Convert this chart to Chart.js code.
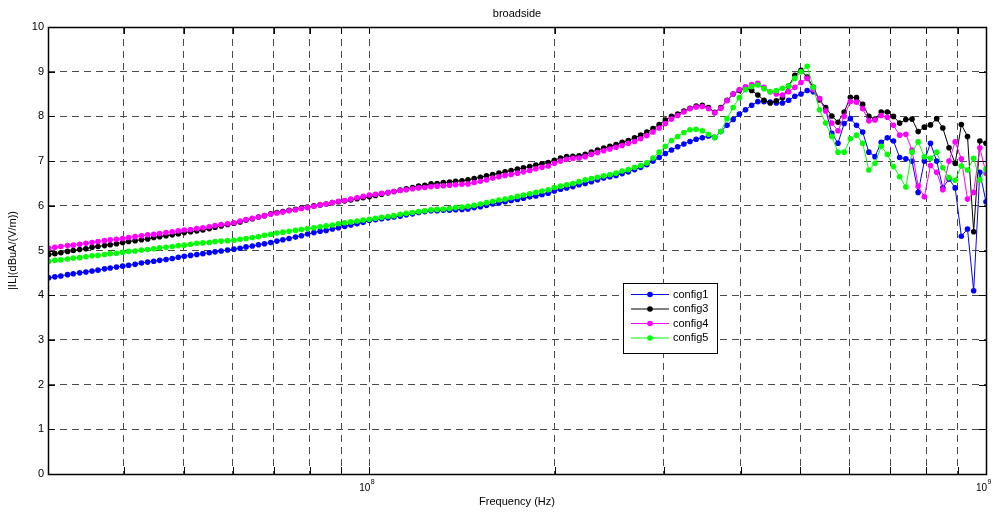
<!DOCTYPE html>
<html>
<head>
<meta charset="utf-8">
<title>broadside</title>
<script src="https://cdn.jsdelivr.net/npm/chart.js@4.4.1/dist/chart.umd.min.js"></script>
<style>
  html, body { margin: 0; padding: 0; background: #fff; }
  #wrap { width: 998px; height: 515px; }
</style>
</head>
<body>
<div id="wrap"><canvas id="chart" width="998" height="515"></canvas></div>
<script>
// frequency points (MHz)
const freqMHz = [
  30.2, 30.9, 31.6, 32.4, 33.1, 33.9, 34.7, 35.5, 36.3, 37.2, 38.0, 38.9, 39.8, 40.7, 41.7, 42.7, 43.7, 44.7, 45.7, 46.8,
  47.9, 49.0, 50.1, 51.3, 52.5, 53.7, 55.0, 56.2, 57.5, 58.9, 60.3, 61.7, 63.1, 64.6, 66.1, 67.6, 69.2, 70.8, 72.4, 74.1,
  75.9, 77.6, 79.4, 81.3, 83.2, 85.1, 87.1, 89.1, 91.2, 93.3, 95.5, 97.7, 100, 102.3, 104.7, 107.2, 109.6, 112.2, 114.8, 117.5,
  120.2, 123.0, 125.9, 128.8, 131.8, 134.9, 138.0, 141.3, 144.5, 147.9, 151.4, 154.9, 158.5, 162.2, 166.0, 169.8, 173.8, 177.8, 182.0, 186.2,
  190.5, 195.0, 199.5, 204.2, 208.9, 213.8, 218.8, 223.9, 229.1, 234.4, 239.9, 245.5, 251.2, 257.0, 263.0, 269.2, 275.4, 281.8, 288.4, 295.1,
  302.0, 309.0, 316.2, 323.6, 331.1, 338.8, 346.7, 354.8, 363.1, 371.5, 380.2, 389.0, 398.1, 407.4, 416.9, 426.6, 436.5, 446.7, 457.1, 467.7,
  478.6, 489.8, 501.2, 512.9, 524.8, 537.0, 549.5, 562.3, 575.4, 588.8, 602.6, 616.6, 631.0, 645.7, 660.7, 676.1, 691.8, 707.9, 724.4, 741.3,
  758.6, 776.2, 794.3, 812.8, 831.8, 851.1, 871.0, 891.3, 912.0, 933.3, 955.0, 977.2, 1000
];

// |IL| in dBuA/(V/m)
const config1 = [
  4.39, 4.41, 4.43, 4.46, 4.48, 4.50, 4.52, 4.54, 4.56, 4.59, 4.61, 4.63, 4.65, 4.67, 4.69, 4.72, 4.74, 4.76, 4.78, 4.80,
  4.82, 4.85, 4.87, 4.89, 4.91, 4.93, 4.95, 4.97, 4.99, 5.01, 5.03, 5.05, 5.08, 5.10, 5.13, 5.15, 5.18, 5.21, 5.24, 5.27,
  5.30, 5.33, 5.37, 5.40, 5.43, 5.45, 5.48, 5.51, 5.54, 5.57, 5.60, 5.63, 5.67, 5.69, 5.71, 5.73, 5.75, 5.77, 5.80, 5.82,
  5.85, 5.87, 5.89, 5.89, 5.90, 5.90, 5.91, 5.92, 5.93, 5.96, 5.98, 6.01, 6.04, 6.06, 6.09, 6.12, 6.14, 6.17, 6.20, 6.22,
  6.25, 6.28, 6.33, 6.37, 6.40, 6.43, 6.47, 6.50, 6.54, 6.58, 6.62, 6.65, 6.68, 6.72, 6.76, 6.81, 6.86, 6.92, 7.00, 7.08,
  7.17, 7.25, 7.32, 7.38, 7.44, 7.49, 7.52, 7.56, 7.53, 7.66, 7.80, 7.93, 8.05, 8.15, 8.25, 8.33, 8.33, 8.32, 8.30, 8.30,
  8.36, 8.45, 8.50, 8.58, 8.55, 8.40, 8.15, 7.62, 7.40, 7.84, 7.95, 7.80, 7.65, 7.20, 7.10, 7.42, 7.52, 7.45, 7.08, 7.05,
  7.00, 6.30, 7.00, 7.40, 7.00, 6.40, 6.60, 6.40, 5.32, 5.48, 4.10, 6.75, 6.09
];
const config3 = [
  4.91, 4.93, 4.95, 4.98, 5.00, 5.02, 5.04, 5.07, 5.09, 5.11, 5.13, 5.15, 5.18, 5.20, 5.22, 5.24, 5.26, 5.29, 5.31, 5.33,
  5.35, 5.37, 5.40, 5.42, 5.44, 5.46, 5.49, 5.52, 5.55, 5.58, 5.61, 5.64, 5.68, 5.71, 5.75, 5.78, 5.82, 5.85, 5.87, 5.90,
  5.92, 5.95, 5.97, 6.00, 6.02, 6.04, 6.07, 6.09, 6.11, 6.13, 6.16, 6.18, 6.20, 6.23, 6.26, 6.29, 6.32, 6.35, 6.38, 6.41,
  6.44, 6.46, 6.49, 6.50, 6.52, 6.53, 6.55, 6.56, 6.58, 6.61, 6.64, 6.67, 6.70, 6.73, 6.76, 6.79, 6.82, 6.85, 6.88, 6.91,
  6.94, 6.97, 7.02, 7.07, 7.10, 7.11, 7.12, 7.15, 7.20, 7.25, 7.29, 7.33, 7.37, 7.42, 7.46, 7.52, 7.58, 7.65, 7.73, 7.82,
  7.92, 8.00, 8.05, 8.12, 8.18, 8.23, 8.25, 8.20, 8.09, 8.20, 8.36, 8.50, 8.58, 8.63, 8.58, 8.48, 8.36, 8.30, 8.35, 8.42,
  8.68, 8.92, 9.03, 8.88, 8.65, 8.37, 8.20, 8.01, 7.87, 8.10, 8.43, 8.42, 8.27, 8.00, 7.94, 8.10, 8.10, 8.00, 7.85, 7.93,
  7.94, 7.66, 7.76, 7.81, 7.95, 7.74, 7.30, 6.95, 7.82, 7.55, 5.42, 7.45, 7.40
];
const config4 = [
  5.05, 5.07, 5.09, 5.11, 5.12, 5.14, 5.16, 5.18, 5.20, 5.22, 5.24, 5.25, 5.27, 5.29, 5.31, 5.33, 5.35, 5.36, 5.38, 5.40,
  5.42, 5.44, 5.46, 5.47, 5.49, 5.51, 5.53, 5.56, 5.58, 5.60, 5.62, 5.66, 5.69, 5.72, 5.75, 5.78, 5.81, 5.84, 5.86, 5.89,
  5.91, 5.94, 5.96, 5.99, 6.02, 6.04, 6.07, 6.10, 6.12, 6.15, 6.18, 6.21, 6.24, 6.26, 6.28, 6.30, 6.32, 6.34, 6.36, 6.38,
  6.40, 6.41, 6.43, 6.44, 6.45, 6.46, 6.47, 6.48, 6.49, 6.52, 6.55, 6.58, 6.62, 6.65, 6.68, 6.70, 6.73, 6.76, 6.79, 6.83,
  6.86, 6.89, 6.95, 7.00, 7.04, 7.06, 7.07, 7.10, 7.15, 7.19, 7.23, 7.27, 7.31, 7.35, 7.40, 7.44, 7.50, 7.57, 7.65, 7.74,
  7.84, 7.94, 8.02, 8.10, 8.17, 8.21, 8.22, 8.17, 8.08, 8.18, 8.35, 8.50, 8.60, 8.66, 8.71, 8.74, 8.65, 8.55, 8.50, 8.48,
  8.55, 8.65, 8.76, 8.85, 8.60, 8.40, 8.12, 7.85, 7.68, 8.00, 8.33, 8.32, 8.17, 7.90, 7.92, 8.02, 7.98, 7.80, 7.58, 7.60,
  7.25, 6.44, 6.20, 6.90, 6.75, 6.36, 7.00, 7.43, 7.05, 6.15, 6.30, 7.30, 6.73
];
const config5 = [
  4.76, 4.78, 4.79, 4.81, 4.83, 4.84, 4.86, 4.88, 4.89, 4.91, 4.93, 4.94, 4.96, 4.98, 4.99, 5.01, 5.02, 5.04, 5.06, 5.07,
  5.09, 5.11, 5.12, 5.14, 5.16, 5.17, 5.18, 5.20, 5.21, 5.22, 5.23, 5.25, 5.27, 5.29, 5.31, 5.34, 5.36, 5.39, 5.41, 5.43,
  5.45, 5.47, 5.49, 5.51, 5.53, 5.55, 5.57, 5.60, 5.62, 5.64, 5.66, 5.68, 5.70, 5.72, 5.74, 5.76, 5.78, 5.81, 5.83, 5.85,
  5.87, 5.89, 5.91, 5.92, 5.93, 5.94, 5.96, 5.97, 5.99, 6.01, 6.04, 6.07, 6.10, 6.13, 6.15, 6.18, 6.21, 6.24, 6.27, 6.30,
  6.33, 6.36, 6.41, 6.44, 6.47, 6.50, 6.54, 6.58, 6.61, 6.64, 6.67, 6.70, 6.73, 6.78, 6.81, 6.86, 6.90, 6.96, 7.07, 7.20,
  7.33, 7.46, 7.55, 7.64, 7.70, 7.71, 7.68, 7.60, 7.53, 7.66, 7.95, 8.20, 8.42, 8.60, 8.67, 8.70, 8.62, 8.55, 8.58, 8.63,
  8.68, 8.85, 9.00, 9.12, 8.65, 8.15, 7.85, 7.55, 7.20, 7.20, 7.50, 7.58, 7.40, 6.80, 6.95, 7.33, 7.15, 6.88, 6.65, 6.42,
  7.20, 7.43, 7.10, 7.06, 7.20, 6.85, 6.63, 6.57, 6.89, 6.80, 7.06, 6.58, 6.82
];

const seriesNames = ["config1", "config3", "config4", "config5"];
const seriesColors = ["#0000ff", "#000000", "#ff00ff", "#00ff00"];

// grid / tick positions on the frequency axis (Hz)
const xTicks = [4e7, 5e7, 6e7, 7e7, 8e7, 9e7, 1e8, 2e8, 3e8, 4e8, 5e8, 6e8, 7e8, 8e8, 9e8, 1e9];
const xLabelDecades = [8, 9];

const FONT = '"Liberation Sans", Arial, Helvetica, sans-serif';
Chart.defaults.font.family = FONT;
Chart.defaults.color = "#000";

const toPoints = (vals) => freqMHz.map((f, i) => ({ x: f * 1e6, y: vals[i] }));

// MATLAB-like frame, inward ticks, texts and legend
const matlabFrame = {
    id: "matlabFrame",
    afterDraw(chart) {
        const { ctx, chartArea: a, scales: { x, y } } = chart;
        ctx.save();

        // inward tick marks
        ctx.strokeStyle = "#000";
        ctx.lineWidth = 1;
        ctx.beginPath();
        x.ticks.forEach((t) => {
            const px = Math.round(x.getPixelForValue(t.value)) + 0.5;
            ctx.moveTo(px, a.bottom); ctx.lineTo(px, a.bottom - 7);
            ctx.moveTo(px, a.top); ctx.lineTo(px, a.top + 7);
        });
        y.ticks.forEach((t) => {
            const py = Math.round(y.getPixelForValue(t.value)) + 0.5;
            ctx.moveTo(a.left, py); ctx.lineTo(a.left + 7, py);
            ctx.moveTo(a.right, py); ctx.lineTo(a.right - 7, py);
        });
        ctx.stroke();

        // axes box
        ctx.lineWidth = 1.5;
        ctx.strokeRect(a.left + 0.5, a.top + 0.5, a.right - a.left, a.bottom - a.top);

        // x tick labels 10^n
        ctx.fillStyle = "#000";
        ctx.textBaseline = "alphabetic";
        xLabelDecades.forEach((d) => {
            const px = x.getPixelForValue(Math.pow(10, d));
            ctx.font = "10px " + FONT;
            ctx.textAlign = "right";
            ctx.fillText("10", px + 1, 491);
            ctx.font = "7px " + FONT;
            ctx.textAlign = "left";
            ctx.fillText(String(d), px + 1.5, 484);
        });

        // title and axis labels
        ctx.font = "11px " + FONT;
        ctx.textAlign = "center";
        ctx.textBaseline = "middle";
        const cx = (a.left + a.right) / 2;
        ctx.fillText("broadside", cx, 14);
        ctx.fillText("Frequency (Hz)", cx, 502);
        ctx.save();
        ctx.translate(13, (a.top + a.bottom) / 2);
        ctx.rotate(-Math.PI / 2);
        ctx.fillText("|IL|(dBuA/(V/m))", 0, 0);
        ctx.restore();

        // legend box
        const lx = 623, ly = 283, lw = 94, lh = 70;
        ctx.fillStyle = "#fff";
        ctx.fillRect(lx, ly, lw, lh);
        ctx.strokeStyle = "#000";
        ctx.lineWidth = 1;
        ctx.strokeRect(lx + 0.5, ly + 0.5, lw, lh);
        ctx.textAlign = "left";
        chart.data.datasets.forEach((ds, i) => {
            const yy = ly + 11.5 + i * 14.5;
            ctx.strokeStyle = ds.borderColor;
            ctx.beginPath();
            ctx.moveTo(lx + 8, yy); ctx.lineTo(lx + 46, yy);
            ctx.stroke();
            ctx.fillStyle = ds.borderColor;
            ctx.beginPath();
            ctx.arc(lx + 27, yy, 2.8, 0, Math.PI * 2);
            ctx.fill();
            ctx.fillStyle = "#000";
            ctx.fillText(ds.label, lx + 50, yy);
        });

        ctx.restore();
    },
};

const seriesValues = [config1, config3, config4, config5];

new Chart(document.getElementById("chart"), {
    type: "line",
    data: {
        datasets: seriesNames.map((name, i) => ({
            label: name,
            data: toPoints(seriesValues[i]),
            borderColor: seriesColors[i],
            backgroundColor: seriesColors[i],
            pointBackgroundColor: seriesColors[i],
            borderWidth: 1,
            pointRadius: 2.8,
            pointBorderWidth: 0,
            pointHoverRadius: 2.8,
            tension: 0,
            fill: false,
            order: seriesNames.length - i, // later series drawn on top
        })),
    },
    options: {
        responsive: false,
        animation: false,
        devicePixelRatio: 1,
        layout: { padding: { top: 27, right: 12, left: 0, bottom: 0 } },
        plugins: {
            legend: { display: false },
            title: { display: false },
            tooltip: { enabled: false },
        },
        events: [],
        scales: {
            x: {
                type: "logarithmic",
                min: 30.12e6,
                max: 1e9,
                afterBuildTicks: (s) => { s.ticks = xTicks.map((v) => ({ value: v })); },
                afterFit: (s) => { s.height = 41; },
                ticks: { display: false },
                grid: { color: "#4a4a4a", lineWidth: 1, drawTicks: false },
                border: { display: false, dash: [7, 5] },
            },
            y: {
                min: 0,
                max: 10,
                afterFit: (s) => { s.width = 48; },
                ticks: { stepSize: 1, padding: 4, font: { size: 11 }, color: "#000" },
                grid: { color: "#4a4a4a", lineWidth: 1, drawTicks: false },
                border: { display: false, dash: [7, 5] },
            },
        },
    },
    plugins: [matlabFrame],
});
</script>
</body>
</html>
